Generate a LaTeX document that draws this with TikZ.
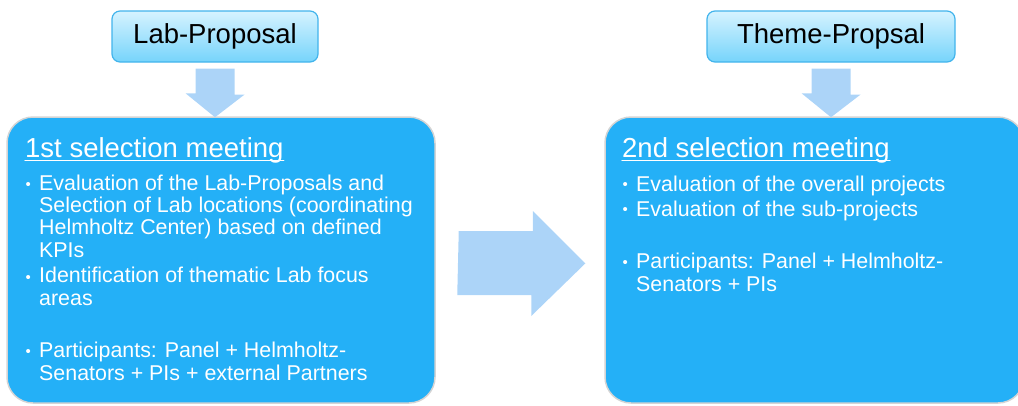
\documentclass[tikz,border=0pt]{standalone}
\usepackage{fontspec}
\setmainfont{Liberation Sans}
\usetikzlibrary{calc}

\definecolor{meetblue}{RGB}{36,176,247}
\definecolor{arrowblue}{RGB}{172,212,248}
\definecolor{proptop}{RGB}{214,243,255}
\definecolor{propbot}{RGB}{118,212,251}
\definecolor{propline}{RGB}{66,180,236}
\definecolor{rimgray}{RGB}{212,212,212}

\tikzset{
  propbox/.style={draw=propline, line width=1.2pt, rounded corners=8pt, top color=proptop, bottom color=propbot, minimum height=51pt, inner sep=0pt, font=\fontsize{27.5}{30}\selectfont},
  meetbox/.style={draw=rimgray, line width=1.5pt, fill=meetblue, rounded corners=26pt, inner sep=0pt},
  blockarrow/.style={fill=arrowblue},
  heading/.style={anchor=base west, inner sep=0pt, text=white, font=\fontsize{27.5}{30}\selectfont},
  underl/.style={draw=white, line width=1.4pt},
  bullets/.style={anchor=base west, inner sep=0pt, text=white, align=left, font=\fontsize{21.4}{22.3}\selectfont},
  dot/.style={anchor=base west, inner sep=0pt, text=white, font=\fontsize{15}{15}\selectfont}
}

\begin{document}
\begin{tikzpicture}[line cap=round,line join=round,x=1pt,y=-1pt]
\useasboundingbox (0,0) rectangle (1018,405);
\clip (0,0) rectangle (1018,405);
% proposals
\node[propbox, minimum width=206pt] (labprop) at (215,36.5) {Lab-Proposal};
\node[propbox, minimum width=248pt] (themeprop) at (831,36.5) {Theme-Propsal};
% selection meetings
\node[meetbox, minimum width=428pt, minimum height=286pt] (meet1) at (221,260) {};
\node[meetbox, minimum width=419pt, minimum height=286pt] (meet2) at (814.5,260) {};
% block arrows
\fill[blockarrow] ($(labprop.south)+(-19.5,6)$) -- ++(39,0) -- ++(0,26) -- ++(10,0) -- ($(labprop.south |- meet1.north)+(0,1)$) -- ++(-29.5,-24) -- ++(10,0) -- cycle;
\fill[blockarrow] ($(themeprop.south)+(-19.5,6)$) -- ++(39,0) -- ++(0,26) -- ++(10,0) -- ($(themeprop.south |- meet2.north)+(0,1)$) -- ++(-29.5,-24) -- ++(10,0) -- cycle;
\fill[blockarrow] ($(meet1.east)+(23,-29)$) -- ++(74,0) -- ++(0,-20) -- ($(meet2.west)+(-19,3.5)$) -- ++(-54,52.5) -- ++(0,-21) -- ++(-74,0) -- cycle;
% 1st meeting (bullet texts sit on their last line)
\node[heading] (head1) at (25,157) {1st selection meeting};
\draw[underl] ([yshift=-3.7pt]head1.base west) -- ([yshift=-3.7pt]head1.base east);
\node[dot] (d11) at (25.5,191) {\raisebox{2pt}{•}};
\node[bullets] (b11) at (39,257) {Evaluation of the Lab-Proposals and\\Selection of Lab locations (coordinating\\Helmholtz Center) based on defined\\KPIs};
\node[dot] (d12) at (25.5,284) {\raisebox{2pt}{•}};
\node[bullets] (b12) at (39,305) {Identification of thematic Lab focus\\areas};
\node[dot] (d13) at (25.5,358) {\raisebox{2pt}{•}};
\node[bullets] (b13) at (39,380) {Participants: Panel + Helmholtz-\\Senators + PIs + external Partners};
% 2nd meeting
\node[heading] (head2) at (622,157) {2nd selection meeting};
\draw[underl] ([yshift=-3.7pt]head2.base west) -- ([yshift=-3.7pt]head2.base east);
\node[dot] (d21) at (622.5,191) {\raisebox{2pt}{•}};
\node[bullets] (b21) at (636,191) {Evaluation of the overall projects};
\node[dot] (d22) at (622.5,216) {\raisebox{2pt}{•}};
\node[bullets] (b22) at (636,216) {Evaluation of the sub-projects};
\node[dot] (d23) at (622.5,269) {\raisebox{2pt}{•}};
\node[bullets] (b23) at (636,291) {Participants: Panel + Helmholtz-\\Senators + PIs};
\end{tikzpicture}
\end{document}
